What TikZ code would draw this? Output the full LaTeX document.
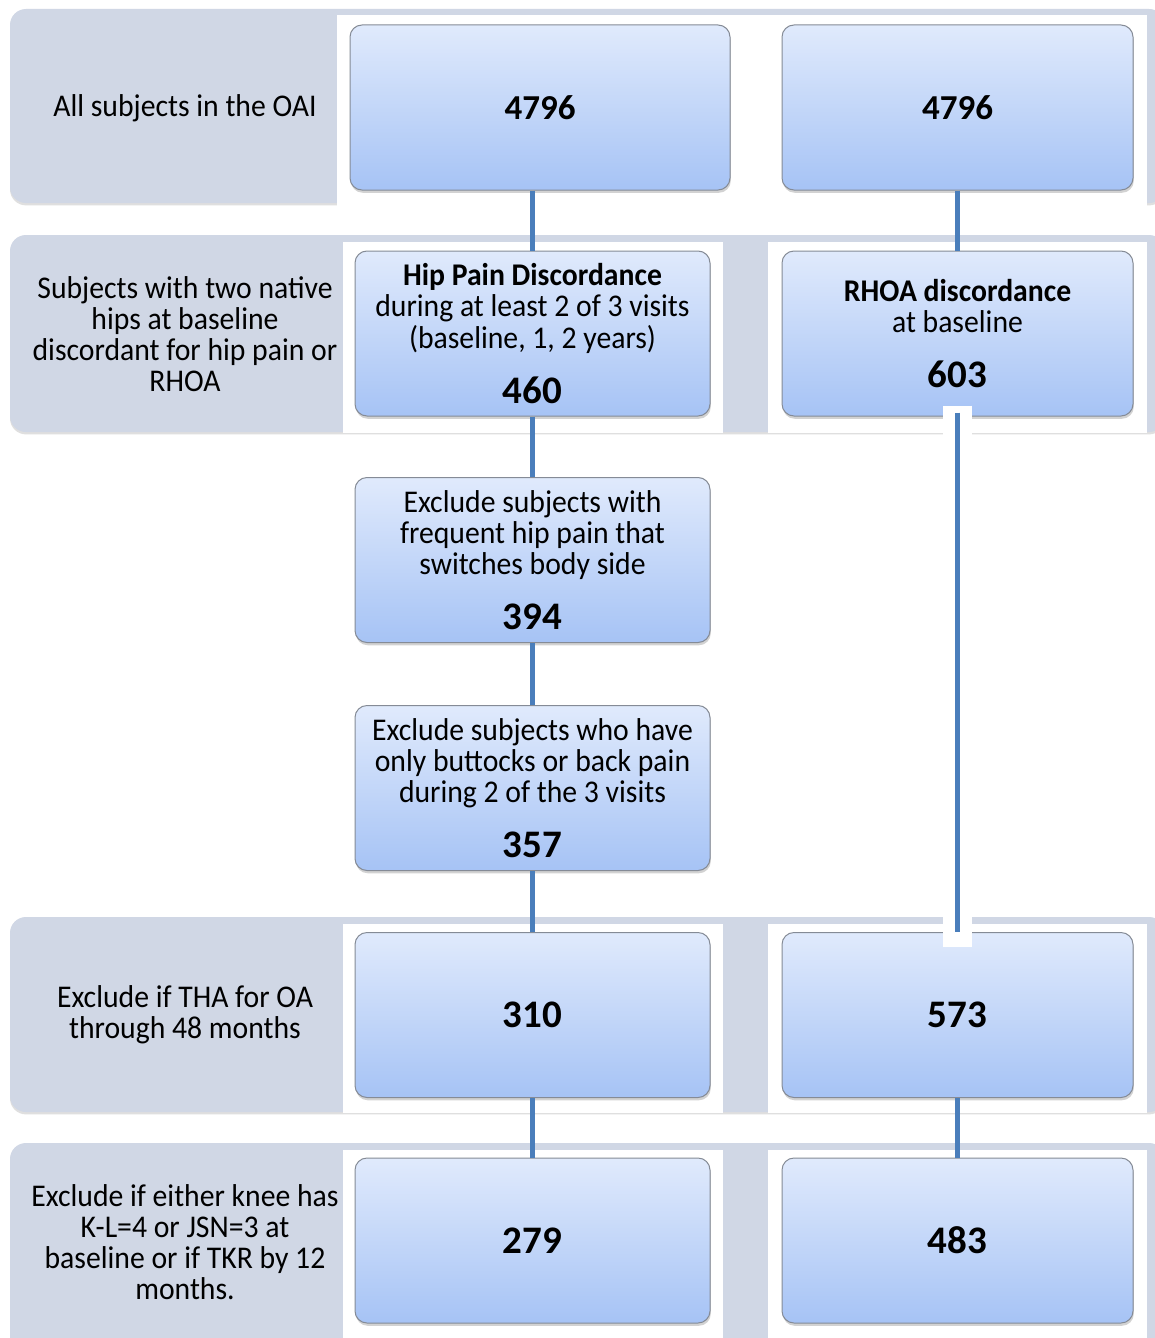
\documentclass[tikz,border=0pt]{standalone}
\usepackage{fontspec}
\setmainfont{Carlito}
\newfontfamily\bodyf[FakeStretch=0.94]{Carlito}
\newfontfamily\numfam{Carlito}
\usetikzlibrary{shadows,calc}
\definecolor{bandgrey}{HTML}{D0D7E5}
\definecolor{boxtop}{HTML}{E0EAFC}
\definecolor{boxbot}{HTML}{A6C3F5}
\definecolor{boxline}{HTML}{858B96}
\definecolor{connblue}{HTML}{4A7EBB}
\newcommand\numf{\numfam\bfseries\fontsize{19.5}{22}\selectfont}
\newcommand\bignumf{\numfam\bfseries\fontsize{17.5}{20}\selectfont}
\newcommand\txtf{\bodyf\fontsize{15.8}{15.6}\selectfont\lineskiplimit=-20pt\relax}
\tikzset{
  band/.style={fill=bandgrey, rounded corners=8pt,
    drop shadow={shadow xshift=0pt, shadow yshift=-1.2pt, opacity=0.25}},
  panel/.style={fill=white},
  flowbox/.style={draw=boxline, line width=0.5pt, rounded corners=6pt,
    top color=boxtop, bottom color=boxbot, inner sep=0pt, align=center,
    minimum height=82.5pt,
    font=\txtf,
    drop shadow={shadow xshift=0.4pt, shadow yshift=-1.4pt, opacity=0.35}},
  lbl/.style={align=center, inner sep=0pt, font=\txtf},
  conn/.style={draw=connblue, line width=2.5pt},
  halo/.style={draw=white, line width=14.5pt}
}
\begin{document}
\begin{tikzpicture}[x=0.5pt,y=-0.5pt]
\useasboundingbox (0,0) rectangle (1155,1338);
\clip (0,0) rectangle (1155,1338);
\fill[white] (0,0) rectangle (1155,1338);
% bands
\path[band] (10,9) rectangle (1165,203);
\fill[panel] (337,15) rectangle (1147,206);
\path[band] (10,235) rectangle (1165,432);
\fill[panel] (343,242) rectangle (723,433);
\fill[panel] (768,242) rectangle (1147,433);
\path[band] (10,917) rectangle (1165,1112);
\fill[panel] (343,924) rectangle (723,1113);
\fill[panel] (768,924) rectangle (1147,1113);
\path[band] (10,1143) rectangle (1165,1380);
\fill[panel] (343,1150) rectangle (723,1380);
\fill[panel] (768,1150) rectangle (1147,1380);
% labels
\node[lbl] (l1) at (185,108) {All subjects in the OAI};
\node[lbl] (l2) at (185,334) {Subjects with two native\\hips at baseline\\discordant for hip pain or\\RHOA};
\node[lbl] (l3) at (185,1015) {Exclude if THA for OA\\through 48 months};
\node[lbl] (l4) at (185,1242) {Exclude if either knee has\\K-L=4 or JSN=3 at\\baseline or if TKR by 12\\months.};
% boxes
\node[flowbox, minimum width=190pt] (b1L) at (540,107.5) {\bignumf 4796};
\node[flowbox, minimum width=175.5pt] (b1R) at (957.5,107.5) {\bignumf 4796};
\node[flowbox, minimum width=177.5pt] (b2L) at (532.5,333.5) {\textbf{Hip Pain Discordance}\\during at least 2 of 3 visits\\(baseline, 1, 2 years)\\[11.9pt]\numf 460};
\node[flowbox, minimum width=175.5pt] (b2R) at (957.5,333.5) {\textbf{RHOA discordance}\\at baseline\\[11.9pt]\numf 603};
\node[flowbox, minimum width=177.5pt] (b3) at (532.5,560) {Exclude subjects with\\frequent hip pain that\\switches body side\\[11.9pt]\numf 394};
\node[flowbox, minimum width=177.5pt] (b4) at (532.5,788) {Exclude subjects who have\\only buttocks or back pain\\during 2 of the 3 visits\\[11.9pt]\numf 357};
\node[flowbox, minimum width=177.5pt] (b5L) at (532.5,1015) {\numf 310};
\node[flowbox, minimum width=175.5pt] (b5R) at (957.5,1015) {\numf 573};
\node[flowbox, minimum width=177.5pt] (b6L) at (532.5,1240.5) {\numf 279};
\node[flowbox, minimum width=175.5pt] (b6R) at (957.5,1240.5) {\numf 483};
% connectors
\draw[conn] (b1L.south -| b2L.north) -- (b2L.north);
\draw[conn] (b2L.south) -- (b3.north);
\draw[conn] (b3.south) -- (b4.north);
\draw[conn] (b4.south) -- (b5L.north);
\draw[conn] (b5L.south) -- (b6L.north);
\draw[conn] (b1R.south) -- (b2R.north);
\draw[halo] ($(b2R.south)+(0,-11)$) -- ($(b5R.north)+(0,15)$);
\draw[conn] ($(b2R.south)+(0,-4)$) -- (b5R.north);
\draw[conn] (b5R.south) -- (b6R.north);
\end{tikzpicture}
\end{document}
